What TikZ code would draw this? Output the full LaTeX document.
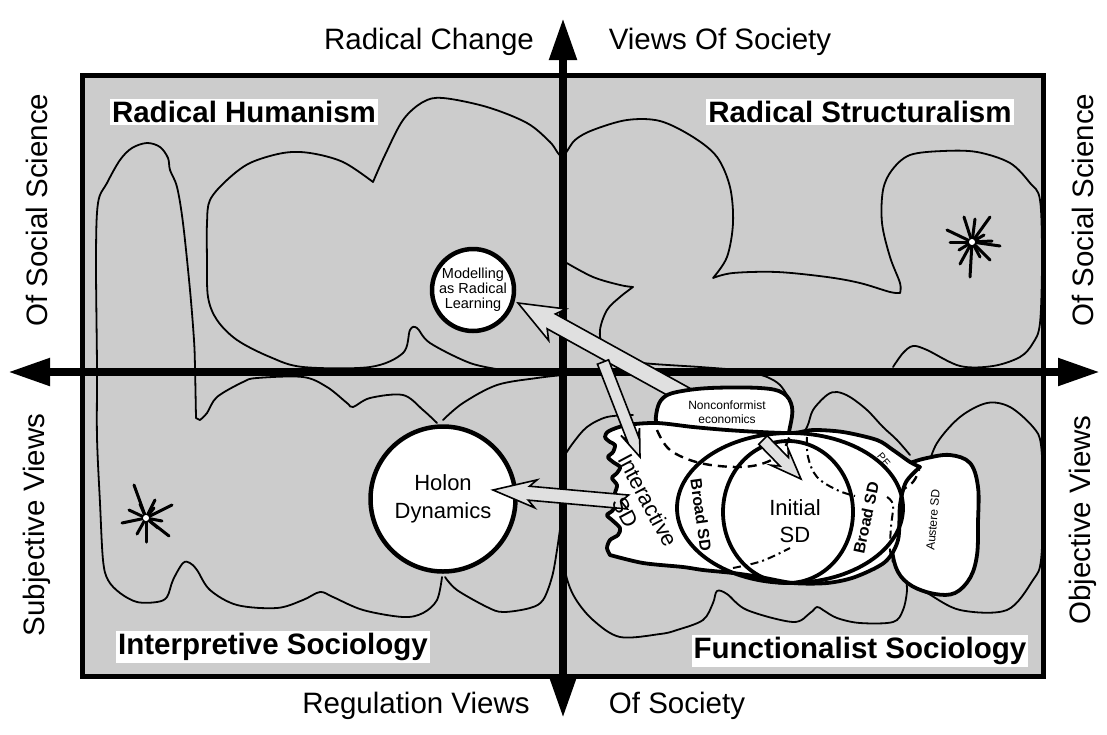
\documentclass[tikz,border=0pt]{standalone}
\usepackage{fontspec}
\setmainfont{Liberation Sans}
\usetikzlibrary{arrows.meta,calc}
\definecolor{bg}{gray}{0.80}
\definecolor{arrfill}{gray}{0.88}
\tikzset{
  thinblob/.style={line width=1.8pt, line join=round, line cap=round},
  thickblob/.style={line width=3.8pt, line join=round},
  axisline/.style={line width=8pt, {Triangle[length=42pt,width=26pt]}-{Triangle[length=42pt,width=26pt]}},
  axislab/.style={font=\fontsize{29.5}{33}\selectfont},
  quadlab/.style={fill=white, inner xsep=2pt, inner ysep=2.5pt, font=\fontsize{29.5}{33}\selectfont\bfseries},
  blockarrow/.style={fill=arrfill, draw=black, line width=1.6pt, line join=miter},
  ray/.style={line width=3pt, line cap=round},
  dashedline/.style={line width=2.4pt, dash pattern=on 9pt off 6pt},
  dashdotline/.style={line width=2pt, dash pattern=on 8pt off 4pt on 2pt off 4pt},
  bubble/.style={circle, draw, fill=white, inner sep=0pt, align=center},
}
% tail, tip, shaft half width, head half width, head length, tail notch
\newcommand{\blockarr}[6]{%
  \coordinate (hb) at ($(#2)!#5!(#1)$);
  \coordinate (hbb) at ($(#2)!#5+7pt!(#1)$);
  \draw[blockarrow] (#2) -- ($(hbb)!#4!90:(#2)$) -- ($(hb)!#3!90:(#2)$)
     -- ($(#1)!#3!90:(#2)$) -- ($(#1)!#6!(#2)$) -- ($(#1)!#3!-90:(#2)$)
     -- ($(hb)!#3!-90:(#2)$) -- ($(hbb)!#4!-90:(#2)$) -- cycle;}
\begin{document}
\begin{tikzpicture}[x=1pt,y=-1pt]
\useasboundingbox (0,0) rectangle (1107,734);
% frame
\filldraw[fill=bg, line width=5pt] (82,75) rectangle (1043,676);

% ---- thin blobs ----
\draw[thinblob] plot[smooth, tension=0.55] coordinates {(437,423)(423,410)(403,395)(370,398)(353,407)(347,403)(327,387)(303,377)(257,378)(243,382)(217,397)(207,413)(200,420)}
  -- plot[smooth, tension=0.55] coordinates {(196,418)(195,367)(194,340)(190,290)(183,223)(177,187)(170,170)(168,158)(160,147)(147,143)(132,148)(120,160)(107,183)(98,203)(96,257)(97,367)(97,437)(100,503)(103,560)(108,580)(120,593)(137,602)(157,602)(167,597)(173,580)(183,563)(190,563)(197,570)(210,590)(237,605)(277,608)(303,600)(320,592)(333,597)(363,610)(403,617)(423,613)(437,600)(442,577)};
\draw[thinblob] plot[smooth, tension=0.55] coordinates {(445,577)(457,590)(487,607)(503,612)(530,608)(543,600)(552,577)(557,550)(561,522)};
\draw[thinblob] plot[smooth, tension=0.55] coordinates {(443,420)(463,403)(497,385)(537,378)(563,375)};
\draw[thinblob] plot[smooth, tension=0.55] coordinates {(503,370)(470,363)(430,343)(417,328)(410,330)(403,353)(370,367)(303,367)(270,357)(237,340)(217,320)(208,297)(207,260)(207,223)(210,200)(227,180)(250,163)(283,153)(310,153)(343,162)(373,182)}
  -- plot[smooth, tension=0.55] coordinates {(373,182)(385,155)(403,120)(423,102)(443,98)(487,107)(527,123)(550,142)(562,156)(575,140)(593,130)(627,120)(660,121)(693,137)(717,157)(730,187)(733,223)(727,257)(713,278)}
  -- plot[smooth, tension=0.55] coordinates {(713,278)(733,273)(777,272)(827,277)(860,283)(890,292)(900,293)}
  -- plot[smooth, tension=0.55] coordinates {(900,293)(900,283)(890,257)(882,223)(883,190)(892,170)(910,155)(943,151)(977,152)(1010,163)(1030,183)(1040,200)(1042,260)(1040,323)(1033,343)(1020,357)(993,366)(960,366)(927,350)(913,346)(903,353)(893,367)};
\draw[thinblob] plot[smooth, tension=0.55] coordinates {(565,262)(593,277)(620,285)(633,287)}
  -- plot[smooth, tension=0.55] coordinates {(633,287)(620,297)(607,310)(600,330)(603,347)(617,357)(643,363)(700,367)(740,370)};
\draw[thinblob] plot[smooth, tension=0.55] coordinates {(563,458)(573,443)(587,427)(607,417)(633,415)};
\draw[thinblob] plot[smooth, tension=0.55] coordinates {(563,545)(566,575)(575,598)(593,620)(620,637)(660,634)(677,630)(703,620)(713,603)(717,591)(727,594)(747,610)(793,622)(810,613)(817,607)(823,610)(837,618)(860,623)(893,622)(903,610)(907,590)(905,575)};
\draw[thinblob] plot[smooth, tension=0.55] coordinates {(795,445)(807,427)(813,410)(827,395)(837,392)(850,397)(867,410)(883,427)(897,440)(910,455)};
\draw[thinblob] plot[smooth, tension=0.55] coordinates {(925,480)(927,470)(937,443)(960,417)(987,403)(1010,407)(1033,427)(1041,445)(1043,500)(1041,560)(1033,580)(1007,610)(960,610)(927,593)(915,588)};
\draw[thinblob] plot[smooth, tension=0.55] coordinates {(750,372)(767,377)(780,385)(790,400)};

% ---- stars ----
\coordinate (starL) at (146,518);
\foreach \dx/\dy in {-12/-33, 9/-18, 26/-13, 16/3, 23/18, 0/24, -9/16, -24/5, -17/-8, -6/-14, 8/-10, 12/10}
  \draw[ray] (starL) -- ++(\dx,\dy);
\fill[white] (starL) circle (3pt);
\coordinate (starR) at (972,242);
\foreach \dx/\dy in {18/-25, -8/-25, 3/-23, -25/-12, -22/0, 28/4, 20/-1, 18/18, 8/15, -2/35, -12/22, -13/8, 12/-7}
  \draw[ray] (starR) -- ++(\dx,\dy);
\fill[white] (starR) circle (3pt);

% ---- axes ----
\coordinate (vtop) at (563,18);
\coordinate (vbot) at (563,718);
\coordinate (hleft) at (8,372);
\coordinate (hright) at (1100,372);
\draw[axisline] (vbot) -- (vtop);
\draw[axisline] (hleft) -- (hright);

% ---- arrow from nonconformist to modelling ----
\coordinate (a1tail) at (690,398);
\coordinate (a1tip) at (518,303);
\blockarr{a1tail}{a1tip}{8.5pt}{18pt}{38pt}{0pt}

% ---- SD shapes ----
\filldraw[thickblob, fill=white] plot[smooth cycle, tension=0.6] coordinates {(893,470)(910,463)(927,458)(950,455)(970,463)(978,487)(978,523)(977,555)(970,578)(955,593)(935,594)(912,586)(898,572)(892,550)(891,520)(890,495)};
\filldraw[thickblob, fill=white] plot[smooth cycle, tension=0.6] coordinates {(657,427)(657,410)(663,398)(677,392)(710,388)(760,388)(783,393)(792,407)(790,427)(783,450)(767,462)(740,467)(700,463)(670,450)};
\filldraw[thickblob, fill=white] plot[smooth, tension=0.5] coordinates {(610,555)(607,548)(610,540)(618,535)(620,528)(612,520)(607,515)(613,510)(615,500)(615,493)(617,485)(612,478)(617,473)(620,467)(613,462)(608,457)(613,452)(615,445)(610,442)(605,437)(609,431)(627,425)(657,423)(693,427)(727,430)(760,432)(793,433)(813,430)(843,432)(877,440)(893,450)(910,462)(920,467)}
  -- plot[smooth, tension=0.5] coordinates {(920,467)(906,482)(900,505)(898,540)(885,562)(855,577)(827,583)(793,583)(760,577)(733,573)(703,570)(683,567)(643,563)(610,555)} -- cycle;
\draw[thickblob] (790,508) ellipse [x radius=113pt, y radius=75pt];
\draw[thickblob] (788,512) ellipse [x radius=65pt, y radius=71pt];
% dashed and dash-dot boundaries
\draw[dashedline] plot[smooth, tension=0.6] coordinates {(657,430)(670,450)(700,463)(740,467)(767,462)(783,450)(790,435)};
\draw[dashdotline] plot[smooth, tension=0.6] coordinates {(807,437)(808,457)(817,477)(837,490)(855,496)};
\draw[dashdotline] plot[smooth, tension=0.6] coordinates {(887,497)(893,505)(891,527)(890,550)(893,562)};
\draw[dashedline] plot[smooth, tension=0.6] coordinates {(899,492)(913,482)(919,470)};
\draw[dashdotline] plot[smooth, tension=0.6] coordinates {(733,568)(762,561)(790,548)};

% ---- other arrows ----
\coordinate (a2tail) at (603,362);
\coordinate (a2tip) at (640,457);
\blockarr{a2tail}{a2tip}{6pt}{10pt}{20pt}{0pt}
\coordinate (a3tail) at (763,440);
\coordinate (a3tip) at (801,479);
\blockarr{a3tail}{a3tip}{6pt}{12pt}{24pt}{0pt}

% ---- bubbles ----
\node[bubble, line width=4.5pt, minimum size=82pt, font=\fontsize{14.5}{15}\selectfont] (model) at (473,290) {Modelling\\as Radical\\Learning};
\node[bubble, line width=4.5pt, minimum size=145pt, font=\fontsize{22}{28}\selectfont] (holon) at (443,499) {Holon\\Dynamics};
\coordinate (a4tail) at (628,502);
\coordinate (a4tip) at (493,490);
\blockarr{a4tail}{a4tip}{7pt}{14pt}{36pt}{7pt}

% ---- SD labels ----
\node[font=\fontsize{12}{14}\selectfont, align=center] (nce) at (727,412) {Nonconformist\\economics};
\node[font=\fontsize{22}{25}\selectfont, align=center, rotate=-62, inner sep=0pt] (isd) at (637,506) {Interactive\\SD};
\node[font=\fontsize{16}{18}\selectfont\bfseries, rotate=-82, inner sep=0pt] (bsdl) at (701,515) {Broad SD};
\node[font=\fontsize{16}{18}\selectfont\bfseries, rotate=78, inner sep=0pt] (bsdr) at (866,518) {Broad SD};
\node[font=\fontsize{22}{27}\selectfont, align=center] (isd2) at (795,521) {Initial\\SD};
\node[font=\fontsize{10.5}{12}\selectfont, rotate=-50, inner sep=0pt] (pe) at (884,460) {PE};
\node[font=\fontsize{12}{14}\selectfont, rotate=85, inner sep=0pt] (asd) at (933,520) {Austere SD};

% ---- quadrant labels ----
\node[quadlab] (rh) at (244,112) {Radical Humanism};
\node[quadlab] (rs) at (860,112) {Radical Structuralism};
\node[quadlab] (is) at (273,647) {Interpretive Sociology};
\node[quadlab] (fs) at (860,651) {Functionalist Sociology};

% ---- axis labels ----
\node[axislab] (rc) at (429,42) {Radical Change};
\node[axislab] (vs) at (720,42) {Views Of Society};
\node[axislab] (rv) at (416,706) {Regulation Views};
\node[axislab] (os) at (677,706) {Of Society};
\node[axislab, rotate=90] (lss) at (37,210) {Of Social Science};
\node[axislab, rotate=90] (sv) at (37,525) {Subjective Views};
\node[axislab, rotate=90] (rss) at (1083,210) {Of Social Science};
\node[axislab, rotate=90] (ov) at (1083,520) {Objective Views};
\end{tikzpicture}
\end{document}
